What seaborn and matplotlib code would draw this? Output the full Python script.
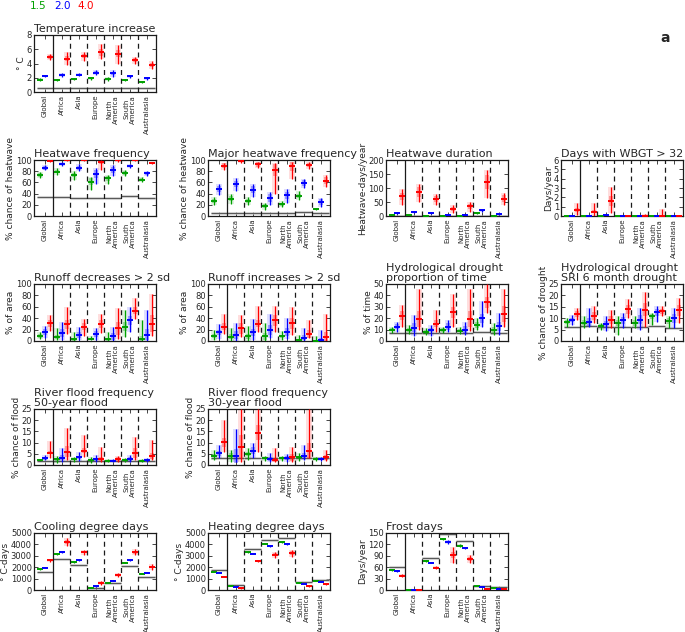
import matplotlib
matplotlib.use("Agg")
import matplotlib.pyplot as plt
import seaborn as sns

regions = ["Global", "Africa", "Asia", "Europe", "North\nAmerica", "South\nAmerica", "Australasia"]
scenarios = ["1.5", "2.0", "4.0"]
colors = ["#00a000", "#0000ff", "#ff0000"]

# rows: 1.5, 2.0, 4.0 ; columns: regions
temp_med = [[1.75, 1.65, 1.8, 1.9, 1.8, 1.65, 1.4], [2.3, 2.35, 2.45, 2.7, 2.6, 2.2, 1.9], [4.95, 4.7, 5.05, 5.55, 5.35, 4.45, 3.8]]
temp_lo = [[1.6, 1.5, 1.65, 1.65, 1.6, 1.5, 1.25], [2.15, 2.05, 2.25, 2.35, 2.15, 2.0, 1.7], [4.5, 3.8, 4.3, 4.6, 3.9, 3.9, 3.2]]
temp_hi = [[1.9, 1.8, 1.95, 2.15, 2.05, 1.8, 1.55], [2.45, 2.6, 2.65, 3.05, 3.1, 2.4, 2.1], [5.4, 5.6, 5.6, 6.7, 6.6, 4.9, 4.4]]
temp_box = [[0.08, 0.08, 0.08, 0.12, 0.12, 0.08, 0.07], [0.1, 0.15, 0.12, 0.2, 0.25, 0.12, 0.1], [0.25, 0.4, 0.3, 0.45, 0.5, 0.3, 0.3]]
temp_base = [0.6, 0.6, 0.6, 0.6, 0.6, 0.6, 0.6]

hwf_med = [[73, 79, 73, 61, 67, 77, 65], [86, 93, 86, 75, 82, 89, 76], [99, 99.5, 99.5, 97, 99.5, 99.5, 94]]
hwf_lo = [[67, 73, 65, 46, 57, 72, 60], [82, 89, 80, 58, 71, 85, 72], [97, 98, 98, 82, 97, 98, 92]]
hwf_hi = [[79, 85, 80, 70, 74, 82, 70], [91, 96, 92, 85, 91, 93, 81], [100, 100, 100, 100, 100, 100, 97]]
hwf_box = [[3, 3, 3, 6, 4, 3, 3], [3, 2, 3, 7, 5, 2, 3], [1, 0.5, 0.5, 4, 1, 0.5, 1.5]]
hwf_base = [33.5, 33.5, 33, 32.5, 33, 35, 33]

mhw_med = [[27, 31, 27, 18, 21, 36, 12], [48, 57, 47, 32, 37, 59, 25], [90, 98, 92, 82, 89, 91, 63]]
mhw_lo = [[20, 22, 20, 10, 16, 28, 10], [38, 44, 34, 20, 24, 50, 16], [82, 95, 85, 40, 66, 84, 51]]
mhw_hi = [[34, 40, 34, 24, 27, 44, 14], [57, 68, 57, 43, 48, 66, 33], [95, 100, 96, 95, 97, 96, 74]]
mhw_box = [[3, 4, 3, 3, 3, 4, 1.5], [5, 6, 6, 7, 6, 5, 5], [4, 2, 4, 10, 8, 3, 6]]
mhw_base = [5, 5, 5, 5, 5, 6.5, 5]

hwd_med = [[2, 2, 1, 1, 1, 9, 1.5], [10.5, 14, 10.5, 3, 5, 21, 7], [70, 85, 60, 25, 35, 120, 62]]
hwd_lo = [[1, 1, 0.5, 0.5, 0.5, 6, 1], [8, 10, 8, 2, 3, 16, 5], [40, 50, 40, 10, 15, 65, 40]]
hwd_hi = [[4, 3, 2, 2, 2, 12, 2.5], [13, 18, 13, 4, 7, 26, 9], [97, 115, 77, 40, 50, 165, 82]]
hwd_box = [[1, 1, 0.5, 0.5, 0.5, 2, 0.5], [2, 3, 2, 1, 1, 4, 1], [13, 18, 10, 8, 9, 25, 13]]
hwd_base = [0.5, 0.5, 0.5, 0.5, 0.5, 0.5, 0.5]

wbgt_med = [[0, 0, 0.01, 0, 0, 0, 0], [0.03, 0.01, 0.07, 0, 0, 0, 0], [0.64, 0.45, 1.62, 0, 0.05, 0.03, 0.02]]
wbgt_lo = [[0, 0, 0, 0, 0, 0, 0], [0, 0, 0, 0, 0, 0, 0], [0.1, 0.05, 0.3, 0, 0, 0, 0]]
wbgt_hi = [[0.02, 0.02, 0.05, 0, 0, 0, 0], [0.08, 0.05, 0.12, 0, 0.01, 0.01, 0], [1.4, 1.35, 3.1, 0, 0.2, 0.75, 0.06]]
wbgt_box = [[0, 0, 0, 0, 0, 0, 0], [0.02, 0.01, 0.03, 0, 0, 0, 0], [0.2, 0.15, 0.5, 0, 0.03, 0.02, 0.01]]

rod_med = [[9, 7, 3, 4, 3, 25, 4], [16, 14, 10, 12, 8, 36, 11], [31, 29, 25, 29, 22, 53, 30]]
rod_lo = [[4, 1, 0, 2, 0, 7, 0], [6, 1, 1, 2, 0, 16, 0], [18, 12, 8, 14, 4, 39, 8]]
rod_hi = [[16, 22, 16, 9, 16, 54, 36], [26, 34, 25, 22, 25, 60, 54], [45, 60, 38, 48, 58, 75, 83]]
rod_box = [[3, 4, 3, 2, 3, 8, 5], [5, 7, 5, 5, 6, 8, 10], [6, 8, 6, 7, 12, 6, 15]]

roi_med = [[9, 7.5, 8, 8, 8, 2, 0.5], [15, 10, 15, 19, 16, 6, 2], [25, 22, 30, 36, 31, 13, 7.5]]
roi_lo = [[2, 0, 0, 0, 2, 0, 0], [3, 0, 2, 5, 3, 0, 0], [12, 7, 16, 16, 10, 5, 0]]
roi_hi = [[19, 22, 27, 31, 18, 10, 8], [30, 31, 39, 47, 41, 22, 20], [48, 45, 62, 62, 60, 36, 48]]
roi_box = [[3, 4, 4, 6, 3, 2, 1], [5, 7, 6, 9, 7, 5, 3], [6, 9, 6, 10, 10, 7, 8]]

hd_med = [[10, 9.6, 8, 9.6, 9, 14, 9.6], [12.6, 11.7, 9.6, 12.6, 10, 20, 13], [22, 19, 15, 25, 19, 34, 24]]
hd_lo = [[7, 6, 5, 6.6, 6, 9.6, 5], [8, 4, 4, 8, 5, 12.6, 5], [12.6, 9.6, 8, 12.6, 9, 24.5, 12.6]]
hd_hi = [[12.6, 14, 11, 12.6, 12, 20, 15.6], [17, 23, 14, 18.6, 17, 35, 24.5], [32, 45.5, 27.5, 41, 46, 50, 46]]
hd_box = [[1.5, 2, 1.5, 1.5, 1.5, 2.5, 2.5], [2, 4, 2, 3, 3, 4, 4], [4, 7, 3, 5, 7, 5, 7]]
hd_base = [6.6, 7, 6.8, 7, 7, 8, 7]

sri_med = [[8.2, 8, 6.7, 7.8, 7.8, 10.8, 8.8], [9.3, 8.5, 7.5, 9, 9.3, 12.6, 10], [12, 11, 9.3, 14, 13.8, 13, 13.5]]
sri_lo = [[6.3, 5.5, 5, 2.5, 5.5, 7, 5.5], [7, 6.3, 4.5, 5.5, 4.8, 8.5, 5.5], [9.3, 7.8, 5.5, 10, 6.3, 11, 8]]
sri_hi = [[10, 10.8, 8, 10.8, 10.8, 12.3, 10.8], [11.5, 14.5, 10.8, 12.3, 14.5, 15.3, 14.5], [14.5, 15.3, 13.8, 18.5, 21.5, 15.3, 19]]
sri_box = [[0.8, 1.2, 0.7, 1.2, 1.2, 1.2, 1.2], [1, 1.8, 1.3, 1.5, 2, 1.5, 2], [1.3, 1.8, 1.8, 2, 3, 1, 2.5]]
sri_base = [6, 6.6, 6, 6, 6.3, 6.5, 5.5]

rf50_med = [[2.2, 2.5, 2.7, 2.2, 2, 2.2, 2], [3, 3.3, 3.4, 2.5, 2, 2.7, 2.2], [5.5, 6, 6.4, 2.7, 2.7, 5.5, 4]]
rf50_lo = [[1.8, 1, 1.5, 1, 1.5, 1.5, 1.5], [2.2, 1.5, 2, 1.5, 1.5, 1.5, 1.5], [3, 2.2, 3.4, 1.5, 1.5, 2.2, 2.2]]
rf50_hi = [[2.7, 4, 3.5, 3.5, 2.5, 3, 2.5], [4.5, 7.5, 6, 4.5, 2.5, 4.5, 3], [10.5, 16.5, 13.5, 8.2, 4, 12.7, 11.2]]
rf50_box = [[0.3, 0.7, 0.5, 0.6, 0.3, 0.5, 0.3], [0.6, 1.2, 0.8, 0.7, 0.3, 0.8, 0.4], [0.8, 2.5, 1.2, 1, 0.8, 2.2, 1.5]]
rf50_base = [2, 2, 2, 2, 2, 2, 2]

rf30_med = [[4.2, 4, 5, 3, 3, 3.4, 2.7], [5.2, 4, 6.4, 2.7, 3, 4, 2.7], [10.2, 8.2, 14.5, 2.2, 3.4, 6.4, 3.4]]
rf30_lo = [[2.2, 1.5, 2.2, 2, 2, 2, 2], [3, 1.5, 3, 1.5, 1.5, 2.2, 2], [6, 1.5, 6, 1.5, 1.5, 3, 2]]
rf30_hi = [[6.7, 6.7, 7.5, 4, 4, 5.2, 3.5], [9, 16, 9.7, 5.2, 5, 9, 3.5], [20.2, 25, 25, 7.5, 8.2, 25, 6.7]]
rf30_box = [[0.8, 1.2, 1, 0.5, 0.5, 0.8, 0.4], [1, 3, 1.5, 0.8, 0.8, 1.5, 0.5], [2, 5, 3.5, 1, 1.5, 3.5, 1]]
rf30_base = [3.3, 3.3, 3.3, 3.3, 3.3, 3.3, 3.3]

cdd_med = [[1820, 3150, 2440, 200, 650, 2410, 1410], [1970, 3320, 2620, 320, 820, 2590, 1530], [2590, 4200, 3320, 590, 1320, 3320, 2000]]
cdd_lo = [[1770, 3100, 2400, 170, 620, 2370, 1380], [1920, 3270, 2570, 270, 780, 2540, 1490], [2450, 3820, 3100, 400, 1150, 3050, 1750]]
cdd_hi = [[1870, 3200, 2490, 230, 690, 2450, 1450], [2020, 3380, 2680, 370, 860, 2640, 1580], [2730, 4560, 3550, 780, 1480, 3600, 2250]]
cdd_box = [[40, 40, 40, 30, 30, 40, 30], [40, 50, 40, 40, 40, 40, 30], [80, 150, 100, 100, 80, 120, 100]]
cdd_base = [1590, 2730, 2150, 200, 590, 2120, 1180]

hdd_med = [[1620, 350, 3320, 4060, 4200, 650, 790], [1530, 290, 3180, 3820, 4030, 530, 735], [1180, 150, 2560, 3090, 3230, 350, 530]]
hdd_lo = [[1580, 320, 3270, 4000, 4150, 620, 760], [1480, 260, 3130, 3730, 3950, 500, 700], [1100, 100, 2450, 2800, 2900, 300, 470]]
hdd_hi = [[1660, 380, 3370, 4120, 4250, 680, 820], [1580, 320, 3230, 3900, 4110, 560, 770], [1260, 200, 2670, 3350, 3550, 400, 590]]
hdd_box = [[40, 30, 40, 40, 40, 30, 30], [40, 30, 40, 60, 60, 30, 30], [50, 40, 60, 120, 150, 30, 40]]
hdd_base = [1760, 440, 3620, 4410, 4560, 735, 880]

frost_med = [[53, 0.5, 76, 134, 117, 10.6, 6], [50, 0.5, 72, 126, 110, 8, 3.5], [38, 0.3, 58, 93, 82, 3.5, 1.8]]
frost_lo = [[51, 0.3, 74, 131, 114, 10, 5.5], [47, 0.3, 70, 120, 107, 7.5, 3], [35, 0.2, 55, 72, 71, 3, 1.3]]
frost_hi = [[55, 0.7, 78, 137, 120, 11.5, 6.5], [53, 0.7, 74, 132, 114, 8.5, 4], [42, 0.5, 62, 113, 93, 4, 2.3]]
frost_box = [[1, 0.1, 1, 2, 1.5, 0.5, 0.5], [1.5, 0.1, 1, 3, 2, 0.5, 0.5], [2, 0.1, 2, 8, 5, 0.5, 0.5]]
frost_base = [60, 0.5, 83, 147, 130, 11.5, 9]

sns.set_theme(style="ticks")
plt.rcParams["font.family"] = ["DejaVu Sans"]

fig = plt.figure(figsize=(6.85, 6.32), dpi=100)
W, H = 685.0, 632.0
col_left = [34, 208, 386, 561]
row_span = [(35, 92), (160, 216), (284, 341), (409, 465), (533, 590)]
offsets = [-0.3, 0.0, 0.3]


def make_ax(row, col):
    top, bottom = row_span[row]
    return fig.add_axes([col_left[col] / W, 1 - bottom / H, 122 / W, (bottom - top) / H])


def draw_panel(ax, title, ylabel, ylim, yticks, med, lo, hi, box, base):
    for k in range(3):
        c = colors[k]
        xs = [i + offsets[k] for i in range(7)]
        ax.bar(xs, [h - l for h, l in zip(hi[k], lo[k])], bottom=lo[k], width=0.32,
               color=c, alpha=0.13, linewidth=0, zorder=2)
        ax.bar(xs, [2 * b for b in box[k]], bottom=[m - b for m, b in zip(med[k], box[k])],
               width=0.22, color=c, alpha=0.3, linewidth=0, zorder=2)
        ax.vlines(xs, lo[k], hi[k], color=c, lw=0.9, zorder=3)
        sns.scatterplot(x=xs, y=med[k], marker="_", s=18, color=c, linewidth=1.4,
                        ax=ax, legend=False, zorder=4)
    if base is not None:
        for i in range(7):
            ax.hlines(base[i], i - 0.5, i + 0.5, color="0.75", lw=2.2, alpha=0.6, zorder=1)
            ax.hlines(base[i], i - 0.5, i + 0.5, color="0.35", lw=0.8, zorder=1)
    ax.axvline(0.5, color="k", lw=0.9, zorder=1)
    for s in [1.5, 2.5, 3.5, 4.5, 5.5]:
        ax.axvline(s, color="k", lw=0.9, ls=(0, (4, 3)), zorder=1)
    ax.set_xlim(-0.65, 6.55)
    ax.set_ylim(*ylim)
    ax.set_yticks(yticks)
    ax.set_xticks(range(7))
    ax.set_xticklabels(regions, rotation=90, fontsize=5, linespacing=1.1)
    ax.tick_params(axis="y", labelsize=6, direction="in", length=3, width=0.6, pad=1.5,
                   right=True)
    ax.tick_params(axis="x", direction="in", length=3, width=0.6, pad=2, top=True)
    for sp in ax.spines.values():
        sp.set_linewidth(0.9)
        sp.set_color("k")
    ax.set_title(title, loc="left", fontsize=8, pad=2, linespacing=1.0)
    ax.set_ylabel(ylabel, fontsize=6.5, labelpad=0.5)


panels = [
    (0, 0, "Temperature increase", "° C", (0, 8), [0, 2, 4, 6, 8],
     temp_med, temp_lo, temp_hi, temp_box, temp_base),
    (1, 0, "Heatwave frequency", "% chance of heatwave", (0, 100), [0, 20, 40, 60, 80, 100],
     hwf_med, hwf_lo, hwf_hi, hwf_box, hwf_base),
    (1, 1, "Major heatwave frequency", "% chance of heatwave", (0, 100), [0, 20, 40, 60, 80, 100],
     mhw_med, mhw_lo, mhw_hi, mhw_box, mhw_base),
    (1, 2, "Heatwave duration", "Heatwave-days/year", (0, 200), [0, 50, 100, 150, 200],
     hwd_med, hwd_lo, hwd_hi, hwd_box, hwd_base),
    (1, 3, "Days with WBGT > 32", "Days/year", (0, 6), [0, 1, 2, 3, 4, 5, 6],
     wbgt_med, wbgt_lo, wbgt_hi, wbgt_box, None),
    (2, 0, "Runoff decreases > 2 sd", "% of area", (0, 100), [0, 20, 40, 60, 80, 100],
     rod_med, rod_lo, rod_hi, rod_box, None),
    (2, 1, "Runoff increases > 2 sd", "% of area", (0, 100), [0, 20, 40, 60, 80, 100],
     roi_med, roi_lo, roi_hi, roi_box, None),
    (2, 2, "Hydrological drought\nproportion of time", "% of time", (0, 50), [0, 10, 20, 30, 40, 50],
     hd_med, hd_lo, hd_hi, hd_box, hd_base),
    (2, 3, "Hydrological drought\nSRI 6 month drought", "% chance of drought", (0, 25), [0, 5, 10, 15, 20, 25],
     sri_med, sri_lo, sri_hi, sri_box, sri_base),
    (3, 0, "River flood frequency\n50-year flood", "% chance of flood", (0, 25), [0, 5, 10, 15, 20, 25],
     rf50_med, rf50_lo, rf50_hi, rf50_box, rf50_base),
    (3, 1, "River flood frequency\n30-year flood", "% chance of flood", (0, 25), [0, 5, 10, 15, 20, 25],
     rf30_med, rf30_lo, rf30_hi, rf30_box, rf30_base),
    (4, 0, "Cooling degree days", "° C-days", (0, 5000), [0, 1000, 2000, 3000, 4000, 5000],
     cdd_med, cdd_lo, cdd_hi, cdd_box, cdd_base),
    (4, 1, "Heating degree days", "° C-days", (0, 5000), [0, 1000, 2000, 3000, 4000, 5000],
     hdd_med, hdd_lo, hdd_hi, hdd_box, hdd_base),
    (4, 2, "Frost days", "Days/year", (0, 150), [0, 30, 60, 90, 120, 150],
     frost_med, frost_lo, frost_hi, frost_box, frost_base),
]

for row, col, *spec in panels:
    draw_panel(make_ax(row, col), *spec)

# scenario key at the top
for x, lab, c in zip([38, 62, 86], scenarios, colors):
    fig.text(x / W, 1 - 1 / H, lab, color=c, fontsize=7.5, ha="center", va="top")
fig.text(665 / W, 1 - 38 / H, "a", fontsize=10, fontweight="bold", ha="center", va="center")

fig.savefig("out.png", dpi=100)
